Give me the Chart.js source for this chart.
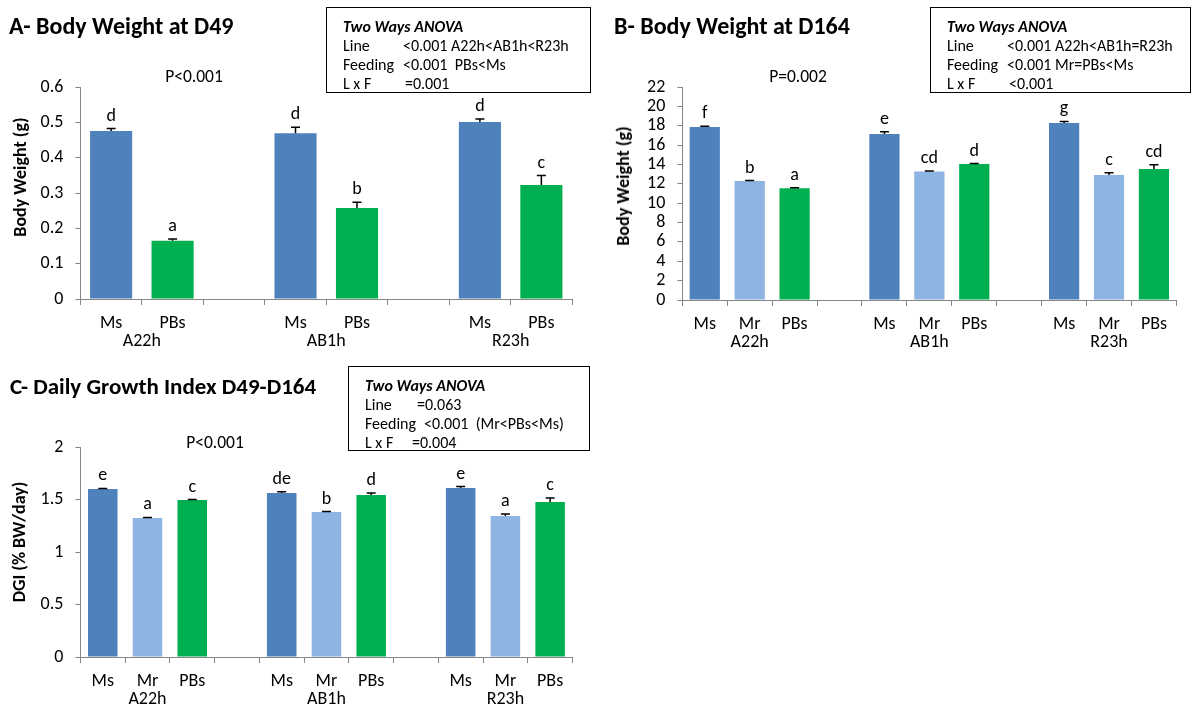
<!DOCTYPE html>
<html>
<head>
<meta charset="utf-8">
<script src="https://cdn.jsdelivr.net/npm/chart.js@4.4.1/dist/chart.umd.min.js"></script>
<style>
  body { margin: 0; background: #fff; font-family: Carlito, Calibri, Lato, sans-serif; color: #000; }
  #page { position: relative; width: 1192px; height: 708px; overflow: hidden; }
  canvas { position: absolute; }
  .title { position: absolute; font-weight: bold; font-size: 24px; line-height: 24px; white-space: nowrap; }
  .pval { position: absolute; font-size: 17.5px; line-height: 18px; white-space: nowrap; transform: translate(-50%, -50%); }
  .ylab { position: absolute; font-weight: bold; font-size: 18px; line-height: 18px; white-space: nowrap; transform: translate(-50%, -50%) rotate(-90deg); }
  .box { position: absolute; border: 1.5px solid #000; box-sizing: border-box; font-size: 16px; }
  .box div { position: absolute; left: 16px; white-space: pre; line-height: 18px; transform: translateY(-50%); }
  .box span { display: inline-block; }
  .box .head { font-weight: bold; font-style: italic; }
</style>
</head>
<body>
<div id="page">
  <canvas id="chartA" width="600" height="360" style="left:0;top:0"></canvas>
  <canvas id="chartB" width="592" height="360" style="left:600px;top:0"></canvas>
  <canvas id="chartC" width="600" height="348" style="left:0;top:360px"></canvas>

  <div class="title" style="left:9px;top:14px">A- Body Weight at D49</div>
  <div class="title" style="left:614px;top:14px">B- Body Weight at D164</div>
  <div class="title" style="left:10px;top:374px;font-size:23px">C- Daily Growth Index D49-D164</div>

  <div class="pval" style="left:194px;top:76px">P&lt;0.001</div>
  <div class="pval" style="left:798px;top:76px">P=0.002</div>
  <div class="pval" style="left:215px;top:442px">P&lt;0.001</div>

  <div class="ylab" style="left:20px;top:177px">Body Weight (g)</div>
  <div class="ylab" style="left:623px;top:186px">Body Weight (g)</div>
  <div class="ylab" style="left:19px;top:542px">DGI (% BW/day)</div>

  <div class="box" style="left:326px;top:7px;width:265px;height:86px">
    <div class="head" style="top:19px">Two Ways ANOVA</div>
    <div style="top:38px"><span style="width:60px">Line</span>&lt;0.001 A22h&lt;AB1h&lt;R23h</div>
    <div style="top:57px"><span style="width:60px">Feeding</span>&lt;0.001  PBs&lt;Ms</div>
    <div style="top:76px"><span style="width:62px">L x F</span>=0.001</div>
  </div>
  <div class="box" style="left:930px;top:7px;width:261px;height:86px">
    <div class="head" style="top:19px">Two Ways ANOVA</div>
    <div style="top:38px"><span style="width:60px">Line</span>&lt;0.001 A22h&lt;AB1h=R23h</div>
    <div style="top:57px"><span style="width:60px">Feeding</span>&lt;0.001 Mr=PBs&lt;Ms</div>
    <div style="top:76px"><span style="width:62px">L x F</span>&lt;0.001</div>
  </div>
  <div class="box" style="left:348px;top:366px;width:242px;height:85px">
    <div class="head" style="top:19px">Two Ways ANOVA</div>
    <div style="top:38px"><span style="width:52px">Line</span>=0.063</div>
    <div style="top:57px"><span style="width:59px">Feeding</span>&lt;0.001  (Mr&lt;PBs&lt;Ms)</div>
    <div style="top:76px"><span style="width:47px">L x F</span>=0.004</div>
  </div>
</div>

<script>
// lines (groups on the x axis)
const lines = ["A22h", "AB1h", "R23h"];

// A - body weight at D49
const d49Feeds = ["Ms", "PBs"];
const d49Values = [0.476, 0.165, 0.470, 0.258, 0.502, 0.323];
const d49Errors = [0.007, 0.005, 0.017, 0.016, 0.008, 0.027];
const d49Letters = ["d", "a", "d", "b", "d", "c"];
const d49YTicks = [0, 0.1, 0.2, 0.3, 0.4, 0.5, 0.6];

// B - body weight at D164
const d164Feeds = ["Ms", "Mr", "PBs"];
const d164Values = [17.9, 12.3, 11.55, 17.17, 13.3, 14.06, 18.3, 12.93, 13.55];
const d164Errors = [0.06, 0.05, 0.05, 0.24, 0.05, 0.05, 0.17, 0.24, 0.45];
const d164Letters = ["f", "b", "a", "e", "cd", "d", "g", "c", "cd"];
const d164YTicks = [0, 2, 4, 6, 8, 10, 12, 14, 16, 18, 20, 22];

// C - daily growth index D49-D164
const dgiFeeds = ["Ms", "Mr", "PBs"];
const dgiValues = [1.603, 1.326, 1.498, 1.564, 1.383, 1.545, 1.612, 1.345, 1.479];
const dgiErrors = [0.005, 0.005, 0.004, 0.013, 0.004, 0.019, 0.013, 0.019, 0.038];
const dgiLetters = ["e", "a", "c", "de", "b", "d", "e", "a", "c"];
const dgiYTicks = [0, 0.5, 1, 1.5, 2];

const feedColors = { Ms: "#4F81BD", Mr: "#8DB4E2", PBs: "#00B050" };
const FONT = "Carlito, Calibri, Lato, sans-serif";
const AXIS = "#868686";

// put an empty category between the line groups
function withGaps(arr, per) {
  const out = [];
  arr.forEach((v, i) => {
    if (i > 0 && i % per === 0) out.push(null);
    out.push(v);
  });
  return out;
}

// error bars (upper only), letters and line names
const barNotes = {
  id: "barNotes",
  afterDraw(chart, args, opts) {
    const { ctx } = chart;
    const y = chart.scales.y;
    const meta = chart.getDatasetMeta(0);
    const vals = chart.data.datasets[0].data;
    ctx.save();
    ctx.strokeStyle = "#000";
    ctx.fillStyle = "#000";
    ctx.lineWidth = 1.5;
    ctx.textAlign = "center";
    ctx.font = "18px " + FONT;
    meta.data.forEach((bar, i) => {
      if (vals[i] == null) return;
      const top = y.getPixelForValue(vals[i] + opts.errors[i]);
      ctx.beginPath();
      ctx.moveTo(bar.x, y.getPixelForValue(vals[i]));
      ctx.lineTo(bar.x, top);
      ctx.moveTo(bar.x - 4.5, top);
      ctx.lineTo(bar.x + 4.5, top);
      ctx.stroke();
      ctx.textBaseline = "alphabetic";
      ctx.fillText(opts.letters[i], bar.x, top - 8);
    });
    ctx.textBaseline = "middle";
    lines.forEach((name, g) => {
      const first = g * (opts.per + 1);
      const last = first + opts.per - 1;
      const cx = (meta.data[first].x + meta.data[last].x) / 2;
      ctx.fillText(name, cx, y.bottom + 42);
    });
    ctx.restore();
  }
};

function drawPanel(id, feeds, values, errors, letters, yTicks, area) {
  const per = feeds.length;
  const labels = withGaps(lines.flatMap(() => feeds), per).map(v => v === null ? "" : v);
  new Chart(document.getElementById(id), {
    type: "bar",
    data: {
      labels: labels,
      datasets: [{
        data: withGaps(values, per),
        backgroundColor: labels.map(l => feedColors[l] || "transparent"),
        barPercentage: area.bar,
        categoryPercentage: 1
      }]
    },
    options: {
      responsive: false,
      animation: false,
      layout: { padding: { top: area.top, right: area.right, left: 0, bottom: 0 } },
      plugins: {
        legend: { display: false },
        tooltip: { enabled: false },
        barNotes: { errors: withGaps(errors, per), letters: withGaps(letters, per), per: per }
      },
      scales: {
        x: {
          afterFit: s => { s.height = area.xHeight; },
          border: { color: AXIS, width: 1 },
          grid: { offset: true, drawOnChartArea: false, tickLength: 6, color: AXIS },
          ticks: { color: "#000", font: { family: FONT, size: 18 }, padding: 8, maxRotation: 0, autoSkip: false }
        },
        y: {
          min: 0,
          max: yTicks[yTicks.length - 1],
          afterFit: s => { s.width = area.yWidth; },
          afterBuildTicks: s => { s.ticks = yTicks.map(v => ({ value: v })); },
          border: { color: AXIS, width: 1 },
          grid: { drawOnChartArea: false, tickLength: 5, color: AXIS },
          ticks: { color: "#000", font: { family: FONT, size: 18 }, padding: 12, autoSkip: false, callback: v => String(v) }
        }
      }
    },
    plugins: [barNotes]
  });
}

drawPanel("chartA", d49Feeds, d49Values, d49Errors, d49Letters, d49YTicks,
  { top: 87.3, right: 27.9, yWidth: 80.4, xHeight: 61, bar: 0.685 });
drawPanel("chartB", d164Feeds, d164Values, d164Errors, d164Letters, d164YTicks,
  { top: 87.3, right: 15.6, yWidth: 82.3, xHeight: 60, bar: 0.673 });
drawPanel("chartC", dgiFeeds, dgiValues, dgiErrors, dgiLetters, dgiYTicks,
  { top: 87.3, right: 27.5, yWidth: 80.4, xHeight: 51, bar: 0.66 });
</script>
</body>
</html>
